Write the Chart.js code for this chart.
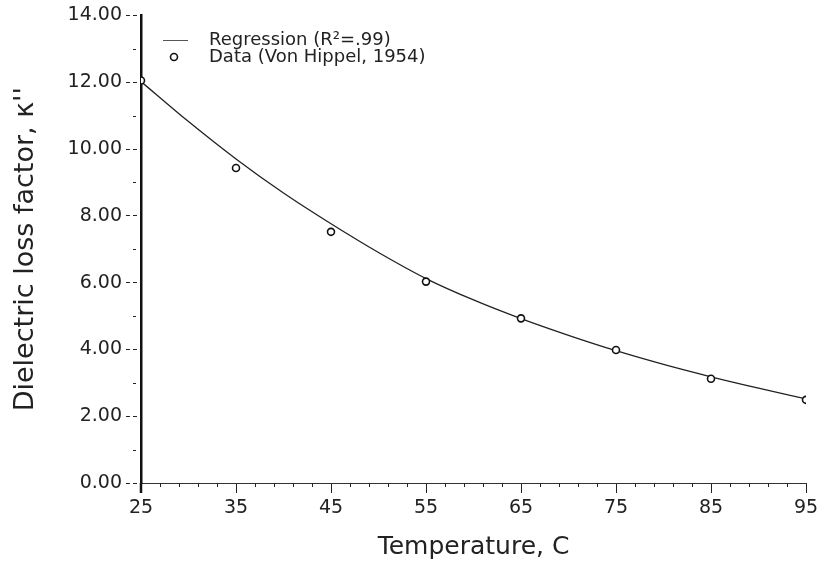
<!DOCTYPE html>
<html>
<head>
<meta charset="utf-8">
<script src="https://cdn.jsdelivr.net/npm/chart.js@4/dist/chart.umd.min.js"></script>
<style>
  html, body { margin: 0; padding: 0; background: #fff; }
  #chart-box { width: 825px; height: 562px; }
</style>
</head>
<body>
<div id="chart-box"><canvas id="loss-chart" width="825" height="562"></canvas></div>
<script>
  // Measured data points (Von Hippel, 1954)
  const dataTemps = [25, 35, 45, 55, 65, 75, 85, 95];
  const dataLoss = [12.05, 9.43, 7.52, 6.03, 4.93, 3.98, 3.12, 2.49];

  // Regression curve, every 5 degrees
  const fitTemps = [25, 30, 35, 40, 45, 50, 55, 60, 65, 70, 75, 80, 85, 90, 95];
  const fitLoss = [12.02, 10.82, 9.70, 8.68, 7.76, 6.90, 6.12, 5.48, 4.92, 4.42, 3.96, 3.55, 3.18, 2.84, 2.52];

  // Axis ticks
  const xMajorTicks = [25, 35, 45, 55, 65, 75, 85, 95];
  const xMinorTicks = [27, 29, 31, 33, 37, 39, 41, 43, 47, 49, 51, 53, 57, 59, 61, 63,
                       67, 69, 71, 73, 77, 79, 81, 83, 87, 89, 91, 93];
  const yMinorTicks = [1, 3, 5, 7, 9, 11, 13];

  const fontFamily = "'DejaVu Sans', sans-serif";
  const ink = "#222";

  // small minor ticks and the legend box in the top-left corner
  const extrasPlugin = {
    id: "extras",
    afterDraw(chart) {
      const ctx = chart.ctx;
      const xs = chart.scales.x;
      const ys = chart.scales.y;
      const axisY = ys.getPixelForValue(0);
      const axisX = xs.getPixelForValue(25);

      ctx.save();
      ctx.strokeStyle = ink;
      ctx.lineWidth = 1;
      xMinorTicks.forEach((v) => {
        const px = Math.round(xs.getPixelForValue(v)) + 0.5;
        ctx.beginPath();
        ctx.moveTo(px, axisY);
        ctx.lineTo(px, axisY + 4);
        ctx.stroke();
      });
      yMinorTicks.forEach((v) => {
        const py = Math.round(ys.getPixelForValue(v)) + 0.5;
        ctx.beginPath();
        ctx.moveTo(axisX - 8, py);
        ctx.lineTo(axisX - 5, py);
        ctx.stroke();
      });

      // the y axis line runs a little below zero in the original
      ctx.lineWidth = 2.5;
      ctx.strokeStyle = "#111";
      ctx.beginPath();
      ctx.moveTo(axisX, axisY);
      ctx.lineTo(axisX, axisY + 10);
      ctx.stroke();

      // legend
      const [fitSet, pointSet] = chart.data.datasets;
      ctx.font = "18px " + fontFamily;
      ctx.fillStyle = ink;
      ctx.textBaseline = "middle";
      ctx.textAlign = "left";

      ctx.lineWidth = 1;
      ctx.strokeStyle = "#555";
      ctx.beginPath();
      ctx.moveTo(163, 40.5);
      ctx.lineTo(188, 40.5);
      ctx.stroke();
      ctx.fillText(fitSet.label, 209, 40);

      ctx.strokeStyle = "#111";
      ctx.lineWidth = 1.6;
      ctx.beginPath();
      ctx.arc(174, 57, 3.5, 0, Math.PI * 2);
      ctx.stroke();
      ctx.fillText(pointSet.label, 209, 57);
      ctx.restore();
    },
  };

  const createChart = (ctx) => {
    return new Chart(ctx, {
      type: "scatter",
      data: {
        datasets: [
          {
            label: "Regression (R\u00B2=.99)",
            data: fitTemps.map((t, i) => ({ x: t, y: fitLoss[i] })),
            showLine: true,
            borderColor: ink,
            borderWidth: 1.3,
            pointRadius: 0,
            cubicInterpolationMode: "monotone",
            order: 1,
          },
          {
            label: "Data (Von Hippel, 1954)",
            data: dataTemps.map((t, i) => ({ x: t, y: dataLoss[i] })),
            pointRadius: 3.5,
            pointBorderWidth: 1.6,
            borderColor: "#111",
            backgroundColor: "#fff",
            order: 0,
          },
        ],
      },
      options: {
        responsive: false,
        animation: false,
        layout: { padding: { top: 15, right: 19, left: 0, bottom: 0 } },
        plugins: {
          legend: { display: false },
          tooltip: { enabled: false },
        },
        scales: {
          x: {
            type: "linear",
            min: 25,
            max: 95,
            afterBuildTicks: (scale) => {
              scale.ticks = xMajorTicks.map((v) => ({ value: v }));
            },
            afterFit: (scale) => {
              scale.height = 79;
            },
            border: { display: true, color: "#333", width: 1, dash: [5, 3] },
            grid: {
              drawOnChartArea: false,
              drawTicks: true,
              tickLength: 10,
              color: ink,
            },
            ticks: {
              color: ink,
              font: { family: fontFamily, size: 19 },
              padding: 4,
              maxRotation: 0,
              callback: (v) => String(v),
            },
            title: {
              display: true,
              text: "Temperature, C",
              color: ink,
              font: { family: fontFamily, size: 25 },
              padding: { top: 0, bottom: 0 },
            },
          },
          y: {
            min: 0,
            max: 14,
            afterFit: (scale) => {
              scale.width = 141;
            },
            border: { display: true, color: "#111", width: 2.5 },
            grid: {
              drawOnChartArea: false,
              drawTicks: true,
              tickLength: 15,
              tickBorderDash: [4, 3],
              color: ink,
            },
            ticks: {
              stepSize: 2,
              color: ink,
              font: { family: fontFamily, size: 19 },
              padding: 4,
              callback: (v) => v.toFixed(2),
            },
            title: {
              display: true,
              text: "Dielectric loss factor, \u03BA''",
              color: ink,
              font: { family: fontFamily, size: 27 },
              padding: { top: 10, bottom: 0 },
            },
          },
        },
      },
      plugins: [extrasPlugin],
    });
  };

  const ctx = document.getElementById("loss-chart").getContext("2d");
  createChart(ctx);
</script>
</body>
</html>
